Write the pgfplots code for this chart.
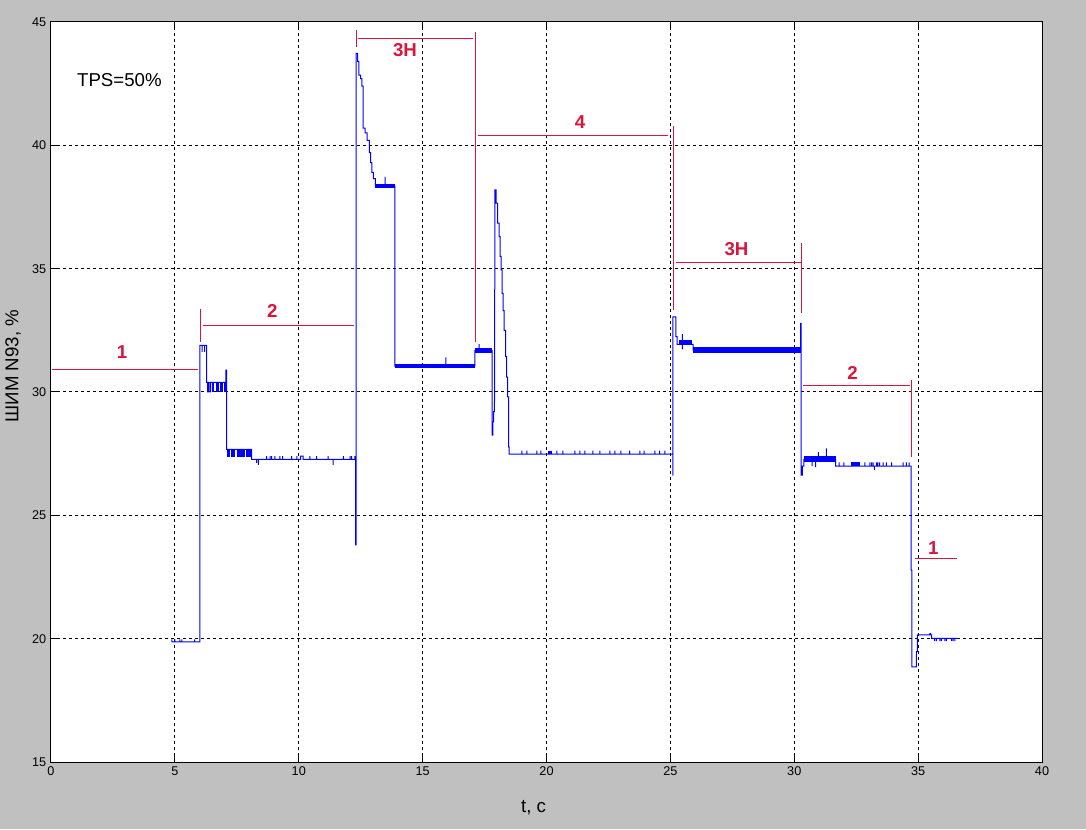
\documentclass[border=0pt]{standalone}
\usepackage{fontspec}
\setmainfont{Liberation Sans}
\usepackage{pgfplots}
\pgfplotsset{compat=1.18}
\definecolor{figbg}{RGB}{192,192,192}
\definecolor{ann}{RGB}{220,20,60}
\begin{document}
\begin{tikzpicture}
\fill[figbg] (0pt,0pt) rectangle (814.5pt,621.75pt);
\begin{axis}[
  at={(38.25pt,50.25pt)}, anchor=south west,
  scale only axis, width=743.25pt, height=555pt,
  xmin=0, xmax=40, ymin=15, ymax=45,
  xtick={0,5,...,40}, ytick={15,20,...,45},
  grid=major,
  major grid style={black, line width=0.75pt, dash pattern=on 2.25pt off 2.25pt},
  axis line style={black, line width=0.75pt},
  tick align=inside, major tick length=6pt,
  tick style={black, line width=0.75pt},
  axis background/.style={fill=white},
  ticklabel style={font=\fontsize{9.5}{10}\selectfont},
  /pgf/number format/assume math mode=true,
  xlabel={t, c}, ylabel={ШИМ N93, \%},
  xlabel style={font=\fontsize{14}{15}\selectfont, at={(axis description cs:0.487,-0.0615)}, anchor=center},
  ylabel style={font=\fontsize{14}{15}\selectfont, at={(axis description cs:-0.0383,0.535)}, anchor=center},
  unbounded coords=jump,
]
% main signal
\addplot[blue, line width=0.75pt] coordinates {
(4.88,19.97)(4.88,19.87)(5.00,19.87)(5.00,19.97)(5.00,19.87)(5.20,19.87)(5.20,19.97)(5.20,19.87)(5.28,19.87)(5.28,19.97)(5.28,19.87)(5.80,19.87)(5.80,19.97)(5.80,19.87)(6.01,19.87)
(6.01,31.89)(6.10,31.89)(6.10,31.63)(6.10,31.89)(6.20,31.89)(6.20,31.63)(6.20,31.89)(6.28,31.89)(6.28,30.39)
(6.32,30.39)(6.32,30.0)(6.36,30.0)(6.36,30.39)(6.42,30.39)(6.42,30.0)(6.44,30.0)(6.44,30.39)(7.06,30.39)
(7.06,30.89)(7.09,30.89)(7.09,27.67)(8.10,27.67)(8.10,27.27)
(8.30,27.27)(8.30,27.13)(8.30,27.27)(8.37,27.27)(8.37,27.05)(8.37,27.27)
(8.70,27.27)(8.70,27.40)(8.70,27.27)(8.84,27.27)(8.84,27.40)(8.84,27.27)(8.91,27.27)(8.91,27.40)(8.91,27.27)
(9.04,27.27)(9.04,27.40)(9.04,27.27)(9.24,27.27)(9.24,27.40)(9.24,27.27)(9.35,27.27)(9.35,27.40)(9.35,27.27)
(9.71,27.27)(9.71,27.40)(9.71,27.27)(9.92,27.27)(9.92,27.40)(9.92,27.27)
(10.08,27.27)(10.08,27.40)(10.18,27.40)(10.18,27.27)
(10.45,27.27)(10.45,27.40)(10.45,27.27)(10.72,27.27)(10.72,27.40)(10.72,27.27)(11.19,27.27)(11.19,27.40)(11.19,27.27)
(11.39,27.27)(11.39,27.05)(11.39,27.27)(11.80,27.27)(11.80,27.40)(11.80,27.27)(12.07,27.27)(12.07,27.40)(12.07,27.27)
(12.13,27.27)(12.13,27.40)(12.13,27.27)(12.27,27.27)(12.27,27.40)(12.27,27.27)
(12.30,27.27)(12.30,23.8)(12.32,23.8)(12.32,43.73)
(12.38,43.73)(12.38,43.4)(12.43,43.4)(12.43,42.85)(12.50,42.85)(12.50,42.7)(12.55,42.7)(12.55,42.4)
(12.60,42.4)(12.60,40.7)(12.68,40.7)(12.68,40.5)(12.76,40.5)(12.76,40.2)(12.85,40.2)(12.85,39.7)
(12.90,39.7)(12.90,39.3)(12.95,39.3)(12.95,38.9)(13.01,38.9)(13.01,38.65)(13.09,38.65)(13.09,38.36)
(13.49,38.36)(13.49,38.72)(13.49,38.36)(13.88,38.36)(13.88,31.05)
(15.94,31.05)(15.94,31.4)(15.94,31.05)(17.11,31.05)(17.11,31.68)
(17.28,31.68)(17.28,31.94)(17.28,31.68)(17.81,31.68)(17.81,28.25)(17.84,28.25)(17.84,28.8)(17.87,28.8)(17.87,29.2)(17.90,29.2)
(17.92,38.19)(17.97,38.19)(17.97,37.66)(18.03,37.66)(18.03,36.85)(18.09,36.85)(18.09,36.3)(18.13,36.3)(18.13,35.5)
(18.17,35.5)(18.17,34.95)(18.21,34.95)(18.21,34.0)(18.25,34.0)(18.25,33.3)(18.29,33.3)(18.29,32.5)(18.35,32.5)(18.35,31.43)
(18.39,31.43)(18.39,30.6)(18.43,30.6)(18.43,29.8)(18.47,29.8)(18.47,27.78)(18.49,27.78)(18.49,27.48)
(19.01,27.48)(19.01,27.62)(19.01,27.48)(19.21,27.48)(19.21,27.62)(19.21,27.48)(19.61,27.48)(19.61,27.62)(19.61,27.48)
(19.77,27.48)(19.77,27.62)(19.77,27.48)(20.42,27.48)(20.42,27.62)(20.42,27.48)(20.66,27.48)(20.66,27.62)(20.66,27.48)
(21.15,27.48)(21.15,27.62)(21.15,27.48)(21.35,27.48)(21.35,27.62)(21.35,27.48)(21.55,27.48)(21.55,27.62)(21.55,27.48)
(21.87,27.48)(21.87,27.62)(21.87,27.48)(22.15,27.48)(22.15,27.62)(22.15,27.48)(22.56,27.48)(22.56,27.62)(22.56,27.48)
(22.76,27.48)(22.76,27.62)(22.76,27.48)(23.00,27.48)(23.00,27.62)(23.00,27.48)(23.36,27.48)(23.36,27.62)(23.36,27.48)
(23.77,27.48)(23.77,27.62)(23.77,27.48)(23.94,27.48)(23.94,27.62)(23.94,27.48)(24.37,27.48)(24.37,27.62)(24.37,27.48)
(24.57,27.48)(24.57,27.62)(24.57,27.48)(24.78,27.48)(24.78,27.62)(24.78,27.48)
(25.10,27.48)(25.10,26.63)(25.105,26.63)(25.105,33.05)(25.22,33.05)(25.22,32.24)(25.27,32.24)(25.27,31.93)
(25.48,31.93)(25.48,32.35)(25.48,31.73)(25.48,31.93)(25.92,31.93)(25.92,31.7)
(30.26,31.7)(30.26,32.78)(30.28,32.78)(30.28,26.63)(30.33,26.63)(30.33,27.0)(30.39,27.0)(30.39,27.27)
(30.72,27.27)(30.72,27.0)(30.72,27.27)(30.86,27.27)(30.86,26.95)(30.86,27.27)(30.97,27.27)(30.97,27.57)(30.97,27.27)
(31.30,27.27)(31.30,27.71)(31.30,27.27)(31.67,27.27)(31.67,27.0)
(31.81,27.0)(31.81,27.15)(31.81,27.0)(32.00,27.0)(32.00,27.15)(32.00,27.0)(32.85,27.0)(32.85,27.15)(32.85,27.0)
(33.05,27.0)(33.05,27.15)(33.05,27.0)(33.12,27.0)(33.12,27.15)(33.12,27.0)(33.18,27.0)(33.18,27.15)(33.18,27.0)
(33.23,27.0)(33.23,26.84)(33.23,27.0)(33.32,27.0)(33.32,27.15)(33.32,27.0)(33.38,27.0)(33.38,27.15)(33.38,27.0)
(33.45,27.0)(33.45,27.15)(33.45,27.0)(33.59,27.0)(33.59,27.15)(33.59,27.0)(33.72,27.0)(33.72,27.15)(33.72,27.0)
(33.93,27.0)(33.93,27.15)(33.93,27.0)(34.39,27.0)(34.39,27.15)(34.39,27.0)(34.53,27.0)(34.53,27.15)(34.53,27.0)
(34.64,27.0)(34.64,27.15)(34.64,27.0)
(34.72,27.0)(34.72,22.78)(34.75,22.78)(34.75,18.86)(34.93,18.86)(34.93,19.47)(34.97,19.47)(34.97,20.15)
(35.47,20.15)(35.47,20.2)(35.50,20.2)(35.50,20.15)(35.54,20.15)(35.54,20.01)
(35.67,20.01)(35.67,19.9)(35.67,20.01)(35.74,20.01)(35.74,19.9)(35.74,20.01)(35.88,20.01)(35.88,19.9)(35.88,20.01)
(35.94,20.01)(35.94,19.9)(35.94,20.01)(36.08,20.01)(36.08,19.9)(36.08,20.01)(36.14,20.01)(36.14,19.9)(36.14,20.01)
(36.35,20.01)(36.35,19.9)(36.35,20.01)(36.41,20.01)(36.41,19.9)(36.41,20.01)(36.48,20.01)(36.48,19.9)(36.48,20.01)
(36.61,20.01)
};
% noise bands (dense switching drawn as thick segments)
\addplot[blue, line width=7.2pt] coordinates {(6.48,30.195)(6.58,30.195)(6.6,nan)(6.65,30.195)(6.77,30.195)(6.8,nan)(6.82,30.195)(6.93,30.195)(6.95,nan)(6.97,30.195)(7.06,30.195)};
\addplot[blue, line width=5.5pt] coordinates {(7.12,27.52)(7.22,27.52)(7.24,nan)(7.26,27.52)(7.44,27.52)(7.46,nan)(7.49,27.52)(7.83,27.52)(7.85,nan)(7.89,27.52)(8.10,27.52)};
\addplot[blue, line width=2.8pt] coordinates {(13.08,38.36)(13.88,38.36)};
\addplot[blue, line width=3pt] coordinates {(13.88,31.05)(17.11,31.05)};
\addplot[blue, line width=3.3pt] coordinates {(17.11,31.68)(17.81,31.68)(17.9,nan)(25.36,32.02)(25.45,32.02)(25.47,nan)(25.50,32.02)(25.89,32.02)};
\addplot[blue, line width=4pt] coordinates {(25.92,31.7)(30.26,31.7)};
\addplot[blue, line width=4.7pt] coordinates {(30.39,27.27)(31.67,27.27)};
\addplot[blue, line width=2.6pt] coordinates {(32.31,27.08)(32.65,27.08)(32.7,nan)(20.06,27.55)(20.22,27.55)};
% annotations
\addplot[ann, line width=0.75pt] coordinates {
(0.04,30.93)(5.92,30.93)(6,nan)
(6.03,33.36)(6.03,32.04)(6.1,nan)
(6.15,32.71)(12.23,32.71)(12.3,nan)
(12.32,44.68)(12.32,43.97)(12.35,nan)
(12.38,44.34)(17.04,44.34)(17.1,nan)
(17.12,44.6)(17.12,32.03)(17.2,nan)
(17.24,40.41)(24.9,40.41)(25,nan)
(25.11,40.78)(25.11,33.32)(25.2,nan)
(25.22,35.26)(30.27,35.26)(30.28,nan)
(30.29,36.03)(30.29,33.21)(30.3,nan)
(30.36,30.28)(34.66,30.28)(34.7,nan)
(34.72,30.48)(34.72,27.37)(34.8,nan)
(34.87,23.26)(36.55,23.26)
};
\begin{scope}[every node/.style={text=ann, font=\fontsize{14}{15}\selectfont\bfseries, inner sep=0pt, anchor=center}]
\node at (axis cs:2.87,31.6) {1};
\node at (axis cs:8.93,33.3) {2};
\node at (axis cs:14.29,43.86) {3H};
\node at (axis cs:21.35,40.94) {4};
\node at (axis cs:27.67,35.78) {3H};
\node at (axis cs:32.35,30.77) {2};
\node at (axis cs:35.61,23.66) {1};
\end{scope}
\node[font=\fontsize{14}{15}\selectfont, inner sep=0pt, anchor=center] at (axis cs:2.76,42.65) {TPS=50\%};
\end{axis}
\end{tikzpicture}
\end{document}
